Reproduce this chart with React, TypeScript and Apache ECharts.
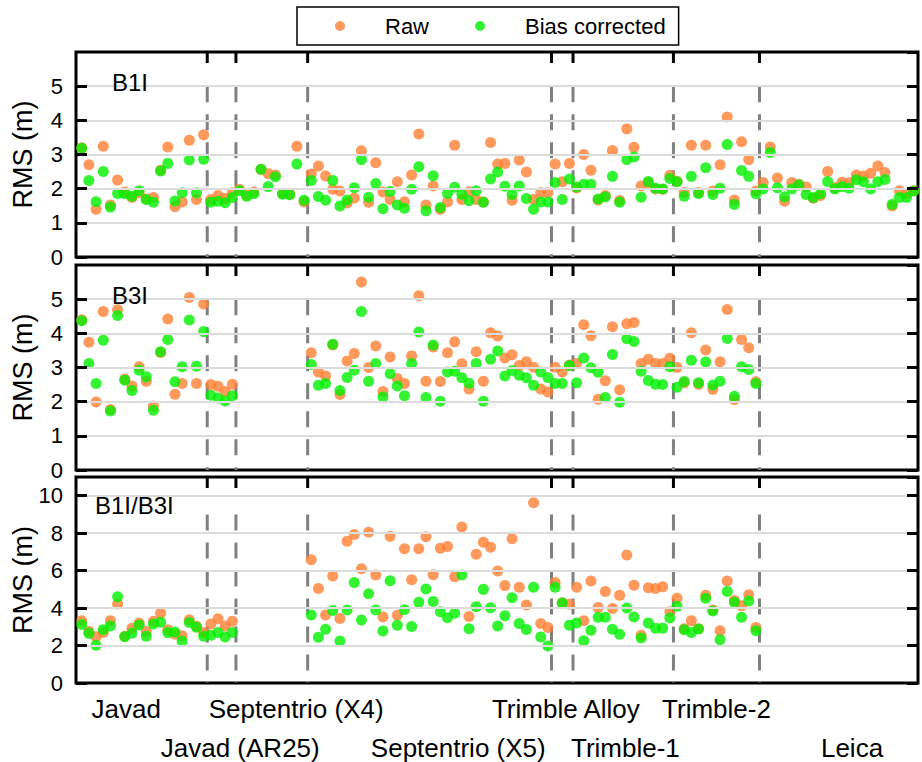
import React, { useEffect, useRef } from 'react';
import * as echarts from 'echarts';

// ---- data (station index 1..117) ----
const noData = (n: number) => Array(n).fill(null);

const b1iRaw = [
  3.2, 2.70, 1.40, 3.24, 1.52, 2.25, 1.90, 1.74, 1.88, 1.70,
  1.74, 2.54, 3.22, 1.47, 1.61, 3.42, 1.68, 3.58, 1.68, 1.80,
  1.71, 1.88, 1.98, 1.81, 1.90, 2.56, 2.44, 2.40, 1.86, 1.84,
  3.24, 1.61, 2.43, 2.66, 2.37, 1.98, 1.93, 1.58, 1.73, 3.11,
  1.60, 2.76, 1.90, 1.68, 2.20, 1.62, 2.40, 3.60, 1.52, 2.08,
  1.40, 1.61, 3.27, 1.68, 1.91, 1.68, 1.61, 3.35, 2.72, 2.74,
  1.66, 2.84, 2.49, 1.68, 1.88, 1.88, 2.72, 2.20, 2.74, 2.02,
  3.00, 2.54, 1.67, 1.80, 3.12, 1.65, 3.75, 3.21, 2.08, 2.17,
  1.99, 1.98, 2.39, 2.22, 1.89, 3.27, 1.89, 3.27, 1.93, 2.70,
  4.10, 1.67, 3.37, 2.85, 1.93, 2.18, 3.22, 2.31, 1.63, 2.18,
  2.13, 2.05, 1.72, 1.80, 2.50, 2.03, 2.19, 2.17, 2.40, 2.37,
  2.45, 2.66, 2.47, 1.49, 1.94, 1.85, 1.94,
];
const b1iCorr = [
  3.18, 2.24, 1.62, 2.50, 1.46, 1.86, 1.85, 1.78, 1.94, 1.68,
  1.60, 2.52, 2.74, 1.64, 1.88, 2.84, 1.88, 2.86, 1.60, 1.63,
  1.59, 1.74, 1.94, 1.78, 1.85, 2.57, 2.06, 2.35, 1.84, 1.82,
  2.72, 1.66, 2.24, 1.77, 1.66, 2.24, 1.49, 1.67, 2.03, 2.85,
  1.75, 2.15, 1.41, 1.92, 1.52, 1.43, 1.98, 2.64, 1.35, 2.38,
  1.45, 1.86, 2.04, 1.84, 1.65, 1.94, 1.60, 2.28, 2.49, 2.07,
  1.83, 2.08, 1.71, 1.40, 1.61, 1.61, 2.18, 1.68, 2.28, 2.05,
  2.13, 2.13, 1.70, 1.76, 2.36, 1.60, 2.85, 2.93, 1.75, 2.21,
  2.01, 1.99, 2.30, 2.20, 1.78, 2.36, 1.86, 2.61, 1.83, 2.01,
  3.29, 1.54, 2.53, 2.36, 1.85, 1.99, 3.06, 2.03, 1.76, 1.99,
  2.11, 1.83, 1.74, 1.85, 2.21, 1.99, 2.06, 2.01, 2.26, 2.20,
  1.99, 2.20, 2.27, 1.54, 1.74, 1.74, 1.93,
];
const b3iRaw = [
  4.40, 3.74, 1.99, 4.64, 1.77, 4.69, 2.66, 2.46, 3.02, 2.60,
  1.87, 3.44, 4.42, 2.22, 2.53, 5.05, 2.53, 4.86, 2.50, 2.45,
  2.30, 2.51,
  ...noData(10),
  3.43, 2.87, 2.75, 3.66, 2.21, 3.19, 3.41, 5.50, 3.00, 3.63,
  2.30, 3.31, 2.68, 2.53, 3.34, 5.10, 2.60, 3.60, 2.59, 3.43,
  3.75, 3.11, 2.37, 3.46, 2.60, 4.02, 3.92, 3.28, 3.37, 3.06,
  3.17, 3.01, 2.37, 2.28, 3.01, 2.87, 3.07, 3.12, 4.25, 3.93,
  2.07, 2.61, 4.19, 2.35, 4.28, 4.32, 3.12, 3.24, 3.12, 3.12,
  3.27, 3.00, 2.55, 4.02, 2.51, 3.51, 2.36, 3.17, 4.70, 2.06,
  3.82, 3.58, 2.58,
  ...noData(22),
];
const b3iCorr = [
  4.37, 3.12, 2.53, 3.80, 1.73, 4.52, 2.63, 2.33, 2.92, 2.73,
  1.75, 3.46, 3.82, 2.58, 3.02, 4.39, 3.04, 4.05, 2.19, 2.11,
  2.02, 2.17,
  ...noData(10),
  3.09, 2.48, 2.53, 3.68, 2.33, 2.71, 2.92, 4.64, 2.60, 3.12,
  2.14, 2.82, 2.46, 2.17, 3.12, 4.04, 2.12, 3.66, 2.01, 2.87,
  2.89, 2.70, 2.54, 3.12, 2.01, 3.24, 3.48, 2.75, 2.91, 2.77,
  2.70, 2.48, 2.87, 2.71, 2.53, 2.53, 3.06, 2.55, 3.28, 2.99,
  2.86, 2.12, 3.38, 1.98, 3.84, 3.76, 2.89, 2.62, 2.51, 2.50,
  3.02, 2.42, 2.59, 3.21, 2.55, 3.16, 2.49, 2.60, 3.85, 2.16,
  3.02, 2.94, 2.53,
  ...noData(22),
];
const b13Raw = [
  3.32, 2.75, 2.47, 2.70, 3.33, 4.22, 2.50, 2.92, 3.20, 2.75,
  3.30, 3.72, 2.85, 2.60, 2.52, 3.38, 3.03, 2.70, 3.15, 3.43,
  3.04, 3.30,
  ...noData(10),
  6.58, 5.05, 3.63, 5.72, 3.44, 7.57, 7.93, 6.10, 8.05, 5.77,
  3.53, 7.83, 3.62, 7.17, 5.51, 7.17, 7.81, 5.78, 7.20, 7.29,
  5.68, 8.33, 3.55, 6.88, 7.52, 7.25, 5.98, 5.20, 7.70, 5.11,
  4.16, 9.62, 3.18, 2.96, 5.36, 4.29, 4.21, 5.11, 3.32, 5.45,
  4.03, 4.89, 3.98, 4.68, 6.84, 5.22, 2.55, 5.09, 5.05, 5.14,
  3.81, 4.52, 2.90, 3.33, 2.90, 4.68, 3.90, 2.79, 5.45, 4.40,
  4.13, 4.71, 2.96,
  ...noData(22),
];
const b13Corr = [
  3.12, 2.65, 2.02, 2.85, 3.05, 4.61, 2.47, 2.66, 3.10, 2.50,
  3.15, 3.24, 2.69, 2.72, 2.24, 3.23, 2.98, 2.50, 2.55, 2.70,
  2.46, 2.70,
  ...noData(10),
  3.63, 2.44, 2.87, 3.87, 2.24, 3.90, 5.37, 3.36, 4.77, 3.90,
  2.78, 5.46, 3.08, 3.91, 3.02, 4.31, 5.02, 4.35, 3.80, 3.48,
  3.73, 5.77, 2.90, 4.07, 5.00, 4.02, 3.04, 3.59, 4.55, 3.18,
  2.86, 5.11, 2.46, 1.98, 5.11, 4.27, 3.09, 3.21, 2.25, 2.82,
  3.51, 3.51, 2.87, 2.60, 4.01, 3.53, 2.40, 3.21, 2.93, 2.93,
  3.47, 4.10, 2.85, 2.70, 2.88, 4.52, 3.85, 2.31, 4.89, 4.31,
  3.51, 4.38, 2.79,
  ...noData(22),
];

// receiver group boundaries (between station indices)
const boundaries = [18.5, 22.5, 32.5, 66.5, 69.5, 83.5, 95.5];
// receiver labels, two rows, positions in station units
const row1Names = ['Javad', 'Septentrio (X4)', 'Trimble Alloy', 'Trimble-2'];
const row1Pos = [7.2, 30.9, 68.5, 89.5];
const row2Names = ['Javad (AR25)', 'Septentrio (X5)', 'Trimble-1', 'Leica'];
const row2Pos = [23.1, 53.5, 76.8, 108.4];

const panelNames = ['B1I', 'B3I', 'B1I/B3I'];
const rawSets = [b1iRaw, b3iRaw, b13Raw];
const corrSets = [b1iCorr, b3iCorr, b13Corr];
const yMaxes = [6, 6, 11];
const yIntervals = [1, 1, 2];
const dashTops = [5, 5, 9];

const X_MIN = 0.2;
const X_MAX = 117.6;
const FONT = '"Liberation Sans", Arial, Helvetica, sans-serif';
const ORANGE = '#FF7F33';
const GREEN = '#00F000';

const gridTops = [52, 265, 477];
const gridHeights = [205, 205, 206];
const TICK_PX = 11;

const toPoints = (arr: (number | null)[]) =>
  arr.map((v, i) => (v == null ? null : [i + 1, v])).filter((p) => p !== null);

function buildOption() {
  const grid: any[] = [];
  const xAxis: any[] = [];
  const yAxis: any[] = [];
  const series: any[] = [];
  const title: any[] = [];

  const titlePos = [
    { left: 112, top: 70 },
    { left: 112, top: 283 },
    { left: 95, top: 493 },
  ];

  for (let p = 0; p < 3; p++) {
    grid.push({
      left: 76,
      right: 4,
      top: gridTops[p],
      height: gridHeights[p],
      show: true,
      borderColor: '#000',
      borderWidth: 3,
      backgroundColor: 'transparent',
      containLabel: false,
      outerBoundsMode: 'none',
      z: 0,
    });
    xAxis.push({
      type: 'value',
      gridIndex: p,
      min: X_MIN,
      max: X_MAX,
      position: 'bottom',
      axisLine: { show: false },
      axisTick: { show: false },
      axisLabel: { show: false },
      splitLine: { show: false },
    });
    yAxis.push({
      type: 'value',
      gridIndex: p,
      min: 0,
      max: yMaxes[p],
      interval: yIntervals[p],
      position: 'left',
      z: 5,
      name: 'RMS (m)',
      nameLocation: 'middle',
      nameGap: 40,
      nameMoveOverlap: false,
      nameTextStyle: { fontSize: 27, color: '#000', fontFamily: FONT },
      axisLine: { show: false },
      axisTick: { show: true, inside: true, length: TICK_PX, lineStyle: { color: '#000', width: 3 } },
      axisLabel: {
        fontSize: 22,
        color: '#000',
        fontFamily: FONT,
        margin: 13,
        showMaxLabel: false,
      },
      splitLine: {
        show: true,
        showMinLine: false,
        showMaxLine: false,
        lineStyle: { color: '#dcdcdc', width: 2 },
      },
    });
    yAxis.push({
      type: 'value',
      gridIndex: p,
      min: 0,
      max: yMaxes[p],
      interval: yIntervals[p],
      position: 'right',
      z: 5,
      axisLine: { show: false },
      axisTick: { show: true, inside: true, length: TICK_PX, lineStyle: { color: '#000', width: 3 } },
      axisLabel: { show: false },
      splitLine: { show: false },
    });

    boundaries.forEach((b) => {
      // dashed receiver-boundary line (drawn from top down)
      series.push({
        type: 'line',
        xAxisIndex: p,
        yAxisIndex: p * 2,
        data: [
          [b, dashTops[p]],
          [b, 0],
        ],
        symbol: 'none',
        silent: true,
        z: 1,
        lineStyle: { color: '#808080', width: 3, type: [16, 12] },
      });
      // short tick mark on the top edge at the same boundary
      const tickLen = (TICK_PX * yMaxes[p]) / gridHeights[p];
      series.push({
        type: 'line',
        xAxisIndex: p,
        yAxisIndex: p * 2,
        data: [
          [b, yMaxes[p]],
          [b, yMaxes[p] - tickLen],
        ],
        symbol: 'none',
        silent: true,
        z: 20,
        lineStyle: { color: '#000', width: 3, type: 'solid' },
      });
    });

    series.push({
      name: 'Raw',
      type: 'scatter',
      xAxisIndex: p,
      yAxisIndex: p * 2,
      symbol: 'circle',
      symbolSize: 11,
      itemStyle: { color: ORANGE },
      z: 3,
      data: toPoints(rawSets[p]),
    });
    series.push({
      name: 'Bias corrected',
      type: 'scatter',
      xAxisIndex: p,
      yAxisIndex: p * 2,
      symbol: 'circle',
      symbolSize: 11,
      itemStyle: { color: GREEN },
      z: 4,
      data: toPoints(corrSets[p]),
    });

    title.push({
      text: panelNames[p],
      left: titlePos[p].left,
      top: titlePos[p].top,
      padding: 0,
      textStyle: { fontSize: 24, fontWeight: 'normal', color: '#000', fontFamily: FONT },
    });
  }

  return {
    animation: false,
    backgroundColor: '#fff',
    title,
    legend: {
      data: ['Raw', 'Bias corrected'],
      left: 297,
      top: 7,
      orient: 'horizontal',
      icon: 'circle',
      itemWidth: 10,
      itemHeight: 10,
      itemGap: 46,
      borderColor: '#000',
      borderWidth: 1.5,
      padding: [8, 13, 8, 38],
      textStyle: { fontSize: 22, color: '#000', fontFamily: FONT, padding: [0, 0, 0, 35] },
    },
    grid,
    xAxis,
    yAxis,
    series,
  };
}

function buildOverlay(chart: echarts.ECharts) {
  const elements: any[] = [];
  // receiver names below the last panel
  const rows: [string[], number[], number][] = [
    [row1Names, row1Pos, 13],
    [row2Names, row2Pos, 51.5],
  ];
  rows.forEach(([names, pos, dy]) => {
    names.forEach((name, i) => {
      const pt = chart.convertToPixel({ xAxisIndex: 2, yAxisIndex: 4 } as any, [pos[i], 0]) as number[];
      elements.push({
        type: 'text',
        silent: true,
        x: pt[0],
        y: pt[1] + dy,
        style: {
          text: name,
          fontSize: 26,
          fontFamily: FONT,
          fill: '#000',
          align: 'center',
          verticalAlign: 'top',
          textAlign: 'center',
          textVerticalAlign: 'top',
        },
      });
    });
  });
  return elements;
}

export default function App() {
  const ref = useRef<HTMLDivElement>(null);
  useEffect(() => {
    if (!ref.current) return;
    const chart = echarts.init(ref.current, undefined, { renderer: 'svg' });
    chart.setOption(buildOption() as any);
    chart.setOption({ graphic: { elements: buildOverlay(chart) } } as any);
    return () => chart.dispose();
  }, []);
  return (
    <div
      ref={ref}
      style={{ position: 'fixed', left: 0, top: 0, width: 922, height: 762, background: '#fff' }}
    />
  );
}
